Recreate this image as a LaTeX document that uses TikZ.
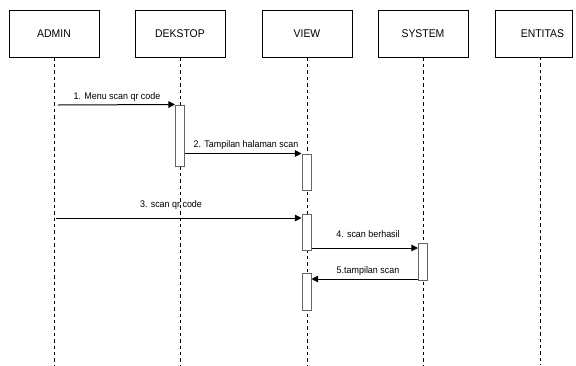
\documentclass[tikz,border=0pt]{standalone}
\usepackage{fontspec}
\setmainfont{Liberation Sans}[FakeStretch=0.93]
\usetikzlibrary{arrows.meta}

\tikzset{
  objbox/.style={draw, line width=0.75pt, minimum width=67.5pt, minimum height=35.25pt, inner sep=0pt, font=\fontsize{8.4}{10}\selectfont},
  actbox/.style={draw=black!60, fill=white, line width=0.75pt, minimum width=6.75pt, inner sep=0pt},
  lifeline/.style={line width=0.6pt, dash pattern=on 2.6pt off 2.2pt},
  msg/.style={line width=0.75pt, -{Triangle[length=5pt,width=5pt]}},
  msglabel/.style={anchor=base, inner sep=0.75pt, font=\fontsize{7.2}{9}\selectfont}
}

\begin{document}
\begin{tikzpicture}[x=0.75pt,y=0.75pt,yscale=-1,xscale=1]
\useasboundingbox (0,0) rectangle (576,365);

%Shape: Rectangle (objects)
\node[objbox] (admin) at (54,33.5) {ADMIN};
\node[objbox] (dekstop) at (180,33.5) {DEKSTOP};
\node[objbox] (view) at (307,33.5) {VIEW};
\node[objbox] (system) at (423,33.5) {SYSTEM};
\node[objbox, minimum width=57.75pt, label={[font=\fontsize{8.4}{10}\selectfont]center:{\hspace*{13.5pt}ENTITAS}}] (entitas) at (533.5,33.5) {};

%Straight Lines (lifelines)
\coordinate (adminEnd) at (54,365);
\coordinate (dekstopEnd) at (180,365);
\coordinate (viewEnd) at (307,365);
\coordinate (systemEnd) at (423,365);
\coordinate (entitasTop) at (540,57);
\coordinate (entitasEnd) at (540,365);
\draw[lifeline] (admin.south) -- (adminEnd);
\draw[lifeline] (dekstop.south) -- (dekstopEnd);
\draw[lifeline] (view.south) -- (viewEnd);
\draw[lifeline] (system.south) -- (systemEnd);
\draw[lifeline] (entitasTop) -- (entitasEnd);

%Shape: Rectangle (activations)
\node[actbox, minimum height=45.75pt] (actDekstop) at (180,135.5) {};
\node[actbox, minimum height=27pt] (actView1) at (306.5,172) {};
\node[actbox, minimum height=27pt] (actView2) at (306.5,232) {};
\node[actbox, minimum height=27.75pt] (actSystem) at (423,261.5) {};
\node[actbox, minimum height=27.75pt] (actView3) at (306.5,291.5) {};

%Messages
\coordinate (m1start) at (58,105);
\coordinate (m3start) at (56,218);
\draw[msg] (m1start) -- (actDekstop.north west);
\draw[msg] (actDekstop.east |- actView1.north) -- (actView1.north west);
\draw[msg] (m3start) -- (m3start -| actView2.west);
\draw[msg] (actView2.east |- 0,248) -- (actSystem.west |- 0,248);
\draw[msg] (actSystem.west |- 0,279) -- (actView3.east |- 0,279);

% Text Node
\node[msglabel] (lbl1) at (117,99) {1. Menu scan qr code};
% Text Node
\node[msglabel] (lbl2) at (246,147) {2. Tampilan halaman scan};
% Text Node
\node[msglabel] (lbl3) at (171,207) {3. scan qr code};
% Text Node
\node[msglabel] (lbl4) at (368,237) {4. scan berhasil};
% Text Node
\node[msglabel] (lbl5) at (368,273) {5.tampilan scan};

\end{tikzpicture}
\end{document}
